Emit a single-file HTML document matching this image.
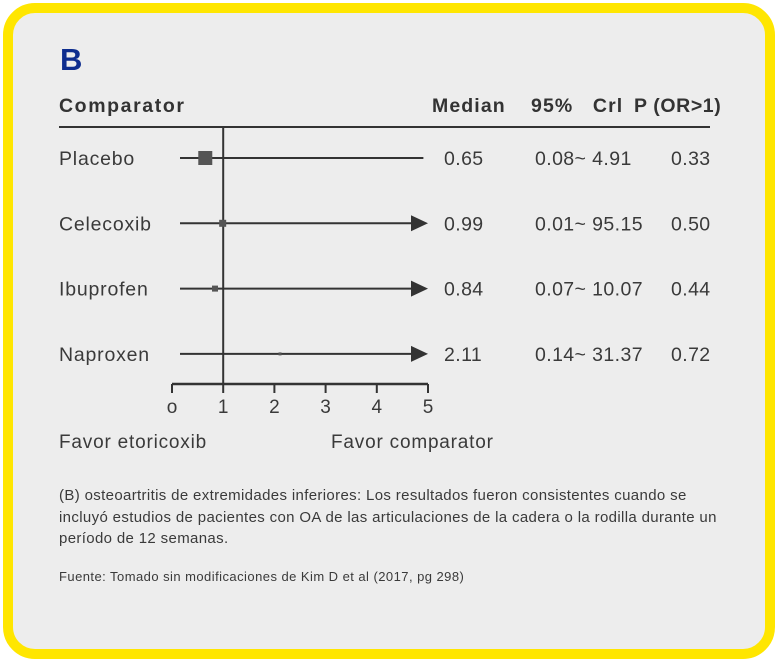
<!DOCTYPE html>
<html><head><meta charset="utf-8"><style>
body{margin:0;width:777px;height:661px;background:#fff;font-family:"Liberation Sans",sans-serif;position:relative;overflow:hidden}
#card{position:absolute;left:3px;top:3px;width:752px;height:636px;border:10px solid #ffe600;border-radius:32px;background:#ededed}
.t{position:absolute;color:#3a3a3a;white-space:nowrap}
.h{font-weight:bold;font-size:19.5px;color:#333;letter-spacing:1.1px}
</style></head><body>
<div id="card"></div>
<div class="t" style="left:60px;top:42px;font-size:31px;font-weight:bold;color:#0e2d8e">B</div>
<div class="t h" style="left:59px;top:95px;letter-spacing:1.6px">Comparator</div>
<div class="t h" style="left:432px;top:95px">Median</div>
<div class="t h" style="left:531px;top:95px">95%&nbsp;&nbsp;&nbsp;Crl</div>
<div class="t h" style="left:634px;top:95px;letter-spacing:0.6px">P (OR&gt;1)</div>
<svg id="chart" width="777" height="661" style="position:absolute;left:0;top:0"></svg>
<div class="t" style="left:59px;top:432px;font-size:19px;letter-spacing:0.8px">Favor etoricoxib</div>
<div class="t" style="left:331px;top:432px;font-size:19px;letter-spacing:0.8px">Favor comparator</div>
<div class="t" style="left:59px;top:485px;font-size:15px;line-height:21.5px;letter-spacing:0.35px;white-space:normal;width:675px">(B) osteoartritis de extremidades inferiores: Los resultados fueron consistentes cuando se incluyó estudios de pacientes con OA de las articulaciones de la cadera o la rodilla durante un período de 12 semanas.</div>
<div class="t" style="left:59px;top:569px;font-size:13px;letter-spacing:0.45px">Fuente: Tomado sin modificaciones de Kim D et al (2017, pg 298)</div>
<script>
const categories=["Placebo","Celecoxib","Ibuprofen","Naproxen"];
const medians=[0.65,0.99,0.84,2.11];
const lows=[0.08,0.01,0.07,0.14];
const highs=[4.91,95.15,10.07,31.37];
const probs=[0.33,0.50,0.44,0.72];
const weights=[14,7,6,3];
const ticks=[0,1,2,3,4,5];
const tickLabels=["o","1","2","3","4","5"];
const NS="http://www.w3.org/2000/svg",svg=document.getElementById('chart');
const x=v=>172+Math.min(v,5)*51.2;
const y=i=>158+i*65.3;
function mk(t,a){const e=document.createElementNS(NS,t);for(const k in a)e.setAttribute(k,a[k]);svg.appendChild(e);return e;}
const c="#333";
let e=mk('line',{x1:59,x2:710,y1:127,y2:127,stroke:c,'stroke-width':2});

e=mk('line',{x1:x(1),x2:x(1),y1:127,y2:385,stroke:c,'stroke-width':2});

e=mk('line',{x1:x(0),x2:x(5),y1:384,y2:384,stroke:c,'stroke-width':2.5});

ticks.forEach((t,i)=>{
 let l=mk('line',{x1:x(t),x2:x(t),y1:384,y2:393,stroke:c,'stroke-width':2});
 
 let tx=mk('text',{x:x(t),y:413,'text-anchor':'middle','font-size':19,fill:'#3a3a3a','font-family':'Liberation Sans'});
 tx.textContent=tickLabels[i];
 
});
categories.forEach((n,i)=>{
 const yy=y(i);
 let t=mk('text',{x:59,y:yy+7,'font-size':19.5,fill:'#3a3a3a','font-family':'Liberation Sans','letter-spacing':0.8});t.textContent=n;
 
 const arrow=highs[i]>5;
 const x2=arrow?x(5)-16:x(highs[i]);
 let l=mk('line',{x1:Math.max(x(lows[i]),180),x2:x2,y1:yy,y2:yy,stroke:c,'stroke-width':2});
 
 if(arrow){let p=mk('polygon',{points:`${x(5)-17},${yy-8} ${x(5)},${yy} ${x(5)-17},${yy+8}`,fill:c});
  }
 const w=weights[i];
 let r=mk('rect',{x:x(medians[i])-w/2,y:yy-w/2,width:w,height:w,fill:'#555'});
 
 const cols=[[444,medians[i].toFixed(2)],[535,lows[i].toFixed(2)+"~ "+highs[i].toFixed(2)],[671,probs[i].toFixed(2)]];
 cols.forEach(([cx,s])=>{let v=mk('text',{x:cx,y:yy+7,'font-size':19.5,fill:'#3a3a3a','font-family':'Liberation Sans','letter-spacing':0.4});v.textContent=s;
  });
});
</script>
</body></html>
